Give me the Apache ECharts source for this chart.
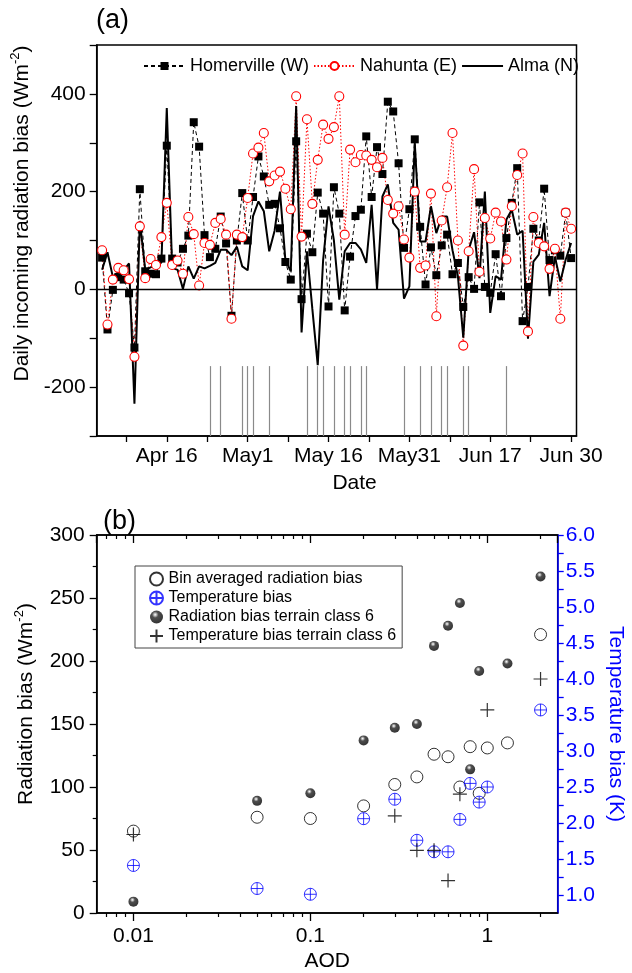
<!DOCTYPE html>
<html><head><meta charset="utf-8">
<script src="https://cdn.jsdelivr.net/npm/echarts@6/dist/echarts.min.js"></script>
<style>html,body{margin:0;padding:0;background:#fff}#c{width:632px;height:973px}</style>
</head><body><div id="c"></div>
<script>
const FONT = "'Liberation Sans', Arial, Helvetica, sans-serif";

// ---------- Panel (a): daily radiation bias (day 0 = Apr 1) ----------
const FIRST_DAY = 3; // Apr 4
const homerville = [65,-82,-1,25,20,-8,-119,205,37,32,31,63,294,63,55,83,110,342,292,111,66,83,149,94,-54,100,197,100,189,272,231,173,175,125,56,20,303,-20,114,76,198,155,-35,209,155,-43,67,150,163,313,189,291,236,384,364,258,85,164,307,128,10,86,29,90,112,31,54,-36,25,1,178,5,-7,72,-14,105,177,248,-65,5,124,100,206,60,80,69,157,64];
const nahunta = [80,-72,20,44,39,21,-138,129,23,62,50,107,177,50,59,32,148,113,8,95,91,136,144,112,-60,112,107,187,278,290,320,221,233,241,206,164,395,108,348,175,265,337,308,332,395,112,286,260,275,274,265,250,269,183,155,170,102,65,200,44,49,196,-55,141,209,320,100,-115,78,246,36,146,104,157,139,61,170,234,278,-86,148,95,88,42,83,-60,157,124];
const alma = [40,76,25,35,39,53,-234,140,40,45,50,55,371,44,40,1,47,22,47,43,48,54,81,81,70,87,47,39,150,180,160,78,120,200,60,37,375,-88,78,-40,-155,60,170,100,-21,78,95,95,82,54,173,0,190,215,136,122,-19,6,300,98,98,170,115,149,149,80,27,-99,81,117,23,200,-48,27,20,143,163,112,120,-101,57,71,136,-14,67,16,61,95];
const rainDays = [23,25,29,30,31,34,41,43,44,46,48,49,51,52,59,62,64,66,67,70,71,78];
const RAIN_TOP = -157;
const dateTickDays = [15,30,45,60,75,90];
const dateTickLabels = ['Apr 16','May1','May 16','May31','Jun 17','Jun 30'];
const dateAllTicks = [7.5,15,22.5,30,37.5,45,52.5,60,67.5,75,82.5,90];
const radLabelsA = [-200,0,200,400];

// ---------- Panel (b): bias vs AOD ----------
const aodBin = [0.01,0.05,0.1,0.2,0.3,0.4,0.5,0.6,0.7,0.8,0.9,1.0,1.3,2.0];
const binRad = [65,76,75,85,102,108,126,124,100,132,95,131,135,221];
const aodTemp = [0.01,0.05,0.1,0.2,0.3,0.4,0.5,0.6,0.7,0.8,0.9,1.0,2.0];
const tempBias = [1.41,1.09,1.01,2.06,2.33,1.76,1.60,1.60,2.05,2.55,2.29,2.50,3.57];
const aodRad6 = [0.01,0.05,0.1,0.2,0.3,0.4,0.5,0.6,0.7,0.8,0.9,1.3,2.0];
const rad6 = [9,89,95,137,147,150,212,228,246,114,192,198,267];
const aodTemp6 = [0.01,0.3,0.4,0.5,0.6,0.7,1.0,2.0];
const temp6 = [1.84,2.10,1.62,1.62,1.20,2.40,3.57,4.00];
const aodLabels = [0.01,0.1,1];
const aodMinor = [0.007,0.008,0.009,0.02,0.03,0.04,0.05,0.06,0.07,0.08,0.09,0.2,0.3,0.4,0.5,0.6,0.7,0.8,0.9,2];
const tempLabels = [1.0,1.5,2.0,2.5,3.0,3.5,4.0,4.5,5.0,5.5,6.0];
const tempTicks = [1.0,1.25,1.5,1.75,2.0,2.25,2.5,2.75,3.0,3.25,3.5,3.75,4.0,4.25,4.5,4.75,5.0,5.25,5.5,5.75,6.0];

const AOD_MIN = 0.0062, AOD_MAX = 2.5;
const LMIN = Math.log10(AOD_MIN), LMAX = Math.log10(AOD_MAX);

const byDay = arr => arr.map((v, i) => [FIRST_DAY + i, v]);
const zip = (xs, ys) => xs.map((x, i) => [x, ys[i]]);

const BLUE = '#0000ff';
const sphere = {type:'radial', x:0.4, y:0.32, r:0.7, colorStops:[
  {offset:0, color:'#ffffff'}, {offset:0.12, color:'#bbbbbb'}, {offset:0.35, color:'#222'}, {offset:1, color:'#000'}]};
const CIRCLE_PLUS = 'path://M10,0 A10,10 0 1,1 10,20 A10,10 0 1,1 10,0 Z M0,10 L20,10 M10,0 L10,20';
const PLUS = 'path://M0,10 L20,10 M10,0 L10,20';

const lbl = {fontFamily:FONT, color:'#000', fontSize:21};
const supRich = {sup:{fontSize:13, verticalAlign:'bottom', padding:[0,0,11,0], fontFamily:FONT, color:'#000'},
                 n:{fontSize:21, verticalAlign:'bottom', fontFamily:FONT, color:'#000'}};
const noZero = {onZero:false};

const chart = echarts.init(document.getElementById('c'), null, {renderer:'canvas'});
chart.setOption({
  animation:false,
  textStyle:{fontFamily:FONT},
  title:[
    {text:'(a)', left:91, top:2, textStyle:{fontSize:27, fontWeight:'normal', color:'#000', fontFamily:FONT}},
    {text:'(b)', left:98, top:503, textStyle:{fontSize:27, fontWeight:'normal', color:'#000', fontFamily:FONT}}
  ],
  legend:[
    {data:['Homerville (W)','Nahunta (E)',{name:'Alma (N)', itemStyle:{opacity:0}}], left:138, top:52, itemWidth:41, itemHeight:10, itemGap:4,
     textStyle:{fontSize:18, color:'#000', fontFamily:FONT}},
    {data:['Bin averaged radiation bias','Temperature bias','Radiation bias terrain class 6','Temperature bias terrain class 6'],
     orient:'vertical', left:135, top:566, itemWidth:14, itemHeight:13, itemGap:3, padding:[5,6,4,14],
     borderColor:'#444', borderWidth:1, textStyle:{fontSize:16, color:'#000', fontFamily:FONT}}
  ],
  grid:[
    {left:96.7, top:45, width:479.8, height:391, show:true, borderColor:'#000', borderWidth:1.5, outerBoundsMode:'none', containLabel:false},
    {left:96.7, top:535, width:461, height:378, show:true, borderColor:'#000', borderWidth:1.5, outerBoundsMode:'none', containLabel:false}
  ],
  xAxis:[
    {gridIndex:0, type:'value', min:2, max:91, name:'Date', nameLocation:'middle', nameGap:37,
     nameTextStyle:{...lbl, padding:[0,0,0,36]},
     axisLine:{...noZero, lineStyle:{color:'#000', width:1.5}}, splitLine:{show:false},
     axisTick:{customValues:dateAllTicks, length:6, lineStyle:{color:'#000', width:1.3}},
     axisLabel:{customValues:dateTickDays, margin:10, ...lbl, formatter:v => dateTickLabels[dateTickDays.indexOf(v)]}},
    {gridIndex:1, type:'log', min:AOD_MIN, max:AOD_MAX, logBase:10, name:'AOD', nameLocation:'middle', nameGap:38,
     nameTextStyle:{...lbl},
     axisLine:{...noZero, lineStyle:{color:'#000', width:1.5}}, splitLine:{show:false},
     axisTick:{length:8, lineStyle:{color:'#000', width:1.3}},
     axisLabel:{margin:13, ...lbl, showMinLabel:false, showMaxLabel:false,
       formatter:v => { const k = aodLabels.find(a => Math.abs(a - v) < a*1e-6); return k === undefined ? '' : String(k); }}},
    {gridIndex:1, type:'value', min:LMIN, max:LMAX, position:'bottom', axisLine:{show:false, onZero:false}, splitLine:{show:false},
     axisTick:{customValues:aodMinor.map(Math.log10), length:4, lineStyle:{color:'#000', width:1.2}}, axisLabel:{show:false}},
    {gridIndex:1, type:'log', min:AOD_MIN, max:AOD_MAX, logBase:10, position:'top', splitLine:{show:false},
     axisLine:{...noZero, lineStyle:{color:'#000', width:1.5}},
     axisTick:{inside:true, length:8, lineStyle:{color:'#000', width:1.3}}, axisLabel:{show:false}},
    {gridIndex:1, type:'value', min:LMIN, max:LMAX, position:'top', axisLine:{show:false, onZero:false}, splitLine:{show:false},
     axisTick:{inside:true, customValues:aodMinor.map(Math.log10), length:4, lineStyle:{color:'#000', width:1.2}}, axisLabel:{show:false}}
  ],
  yAxis:[
    {gridIndex:0, type:'value', min:-300, max:500, interval:100,
     name:'{n|Daily incoming radiation bias (Wm}{sup|-2}{n|)}', nameLocation:'middle', nameGap:60, nameRotate:90,
     nameTextStyle:{...lbl, padding:[0,0,0,54], rich:supRich},
     axisLine:{...noZero, lineStyle:{color:'#000', width:1.5}}, splitLine:{show:false},
     axisTick:{length:7, lineStyle:{color:'#000', width:1.3}},
     axisLabel:{margin:11, ...lbl, formatter:v => radLabelsA.includes(v) ? String(v) : ''}},
    {gridIndex:1, type:'value', position:'left', min:0, max:300, interval:50,
     name:'{n|Radiation bias (Wm}{sup|-2}{n|)}', nameLocation:'middle', nameGap:60, nameRotate:90,
     nameTextStyle:{...lbl, padding:[0,0,0,40], rich:supRich},
     axisLine:{...noZero, lineStyle:{color:'#000', width:1.5}}, splitLine:{show:false},
     axisTick:{length:7, lineStyle:{color:'#000', width:1.3}},
     minorTick:{show:true, splitNumber:2, length:4, lineStyle:{color:'#000', width:1.2}},
     axisLabel:{margin:12, ...lbl}},
    {gridIndex:1, type:'value', position:'right', min:0.75, max:6.0,
     name:'Temperature bias (K)', nameLocation:'middle', nameGap:48, nameRotate:-90,
     nameTextStyle:{...lbl, color:BLUE},
     axisLine:{...noZero, lineStyle:{color:BLUE, width:1.5}}, splitLine:{show:false},
     axisTick:{customValues:tempTicks, length:6, lineStyle:{color:BLUE, width:1.3}},
     axisLabel:{customValues:tempLabels, margin:8, ...lbl, color:BLUE, formatter:v => v.toFixed(1)}}
  ],
  series:[
    {name:'Homerville (W)', type:'line', xAxisIndex:0, yAxisIndex:0, data:byDay(homerville),
     symbol:'rect', symbolSize:8, showAllSymbol:true, itemStyle:{color:'#000'},
     lineStyle:{color:'#000', width:1, type:[4,3]}},
    {name:'Nahunta (E)', type:'line', xAxisIndex:0, yAxisIndex:0, data:byDay(nahunta),
     symbol:'circle', symbolSize:9, showAllSymbol:true, itemStyle:{color:'#fff', borderColor:'#ff0000', borderWidth:1.1},
     lineStyle:{color:'#ff0000', width:1, type:[1.5,2]}},
    {name:'Alma (N)', type:'line', xAxisIndex:0, yAxisIndex:0, data:byDay(alma),
     showSymbol:false, itemStyle:{color:'#000'}, lineStyle:{color:'#000', width:2}},
    {name:'marks', type:'line', xAxisIndex:0, yAxisIndex:0, data:[], silent:true,
     markLine:{silent:true, symbol:['none','none'], label:{show:false}, animation:false,
       data:[{yAxis:0, lineStyle:{color:'#000', width:1.3, type:'solid'}}].concat(
         rainDays.map(d => [{coord:[d, RAIN_TOP], lineStyle:{color:'#8a8a8a', width:1.2, type:'solid'}}, {coord:[d, -300]}]))}},
    {name:'Bin averaged radiation bias', type:'scatter', xAxisIndex:1, yAxisIndex:1, data:zip(aodBin, binRad),
     symbol:'circle', symbolSize:12, itemStyle:{color:'#fff', borderColor:'#000', borderWidth:1}},
    {name:'Temperature bias', type:'scatter', xAxisIndex:1, yAxisIndex:2, data:zip(aodTemp, tempBias),
     symbol:CIRCLE_PLUS, symbolSize:12, itemStyle:{color:'rgba(0,0,0,0)', borderColor:BLUE, borderWidth:1}},
    {name:'Radiation bias terrain class 6', type:'scatter', xAxisIndex:1, yAxisIndex:1, data:zip(aodRad6, rad6),
     symbol:'circle', symbolSize:10, itemStyle:{color:sphere}},
    {name:'Temperature bias terrain class 6', type:'scatter', xAxisIndex:1, yAxisIndex:2, data:zip(aodTemp6, temp6),
     symbol:PLUS, symbolSize:14, itemStyle:{color:'rgba(0,0,0,0)', borderColor:'#000', borderWidth:1.2}}
  ]
});
</script></body></html>
